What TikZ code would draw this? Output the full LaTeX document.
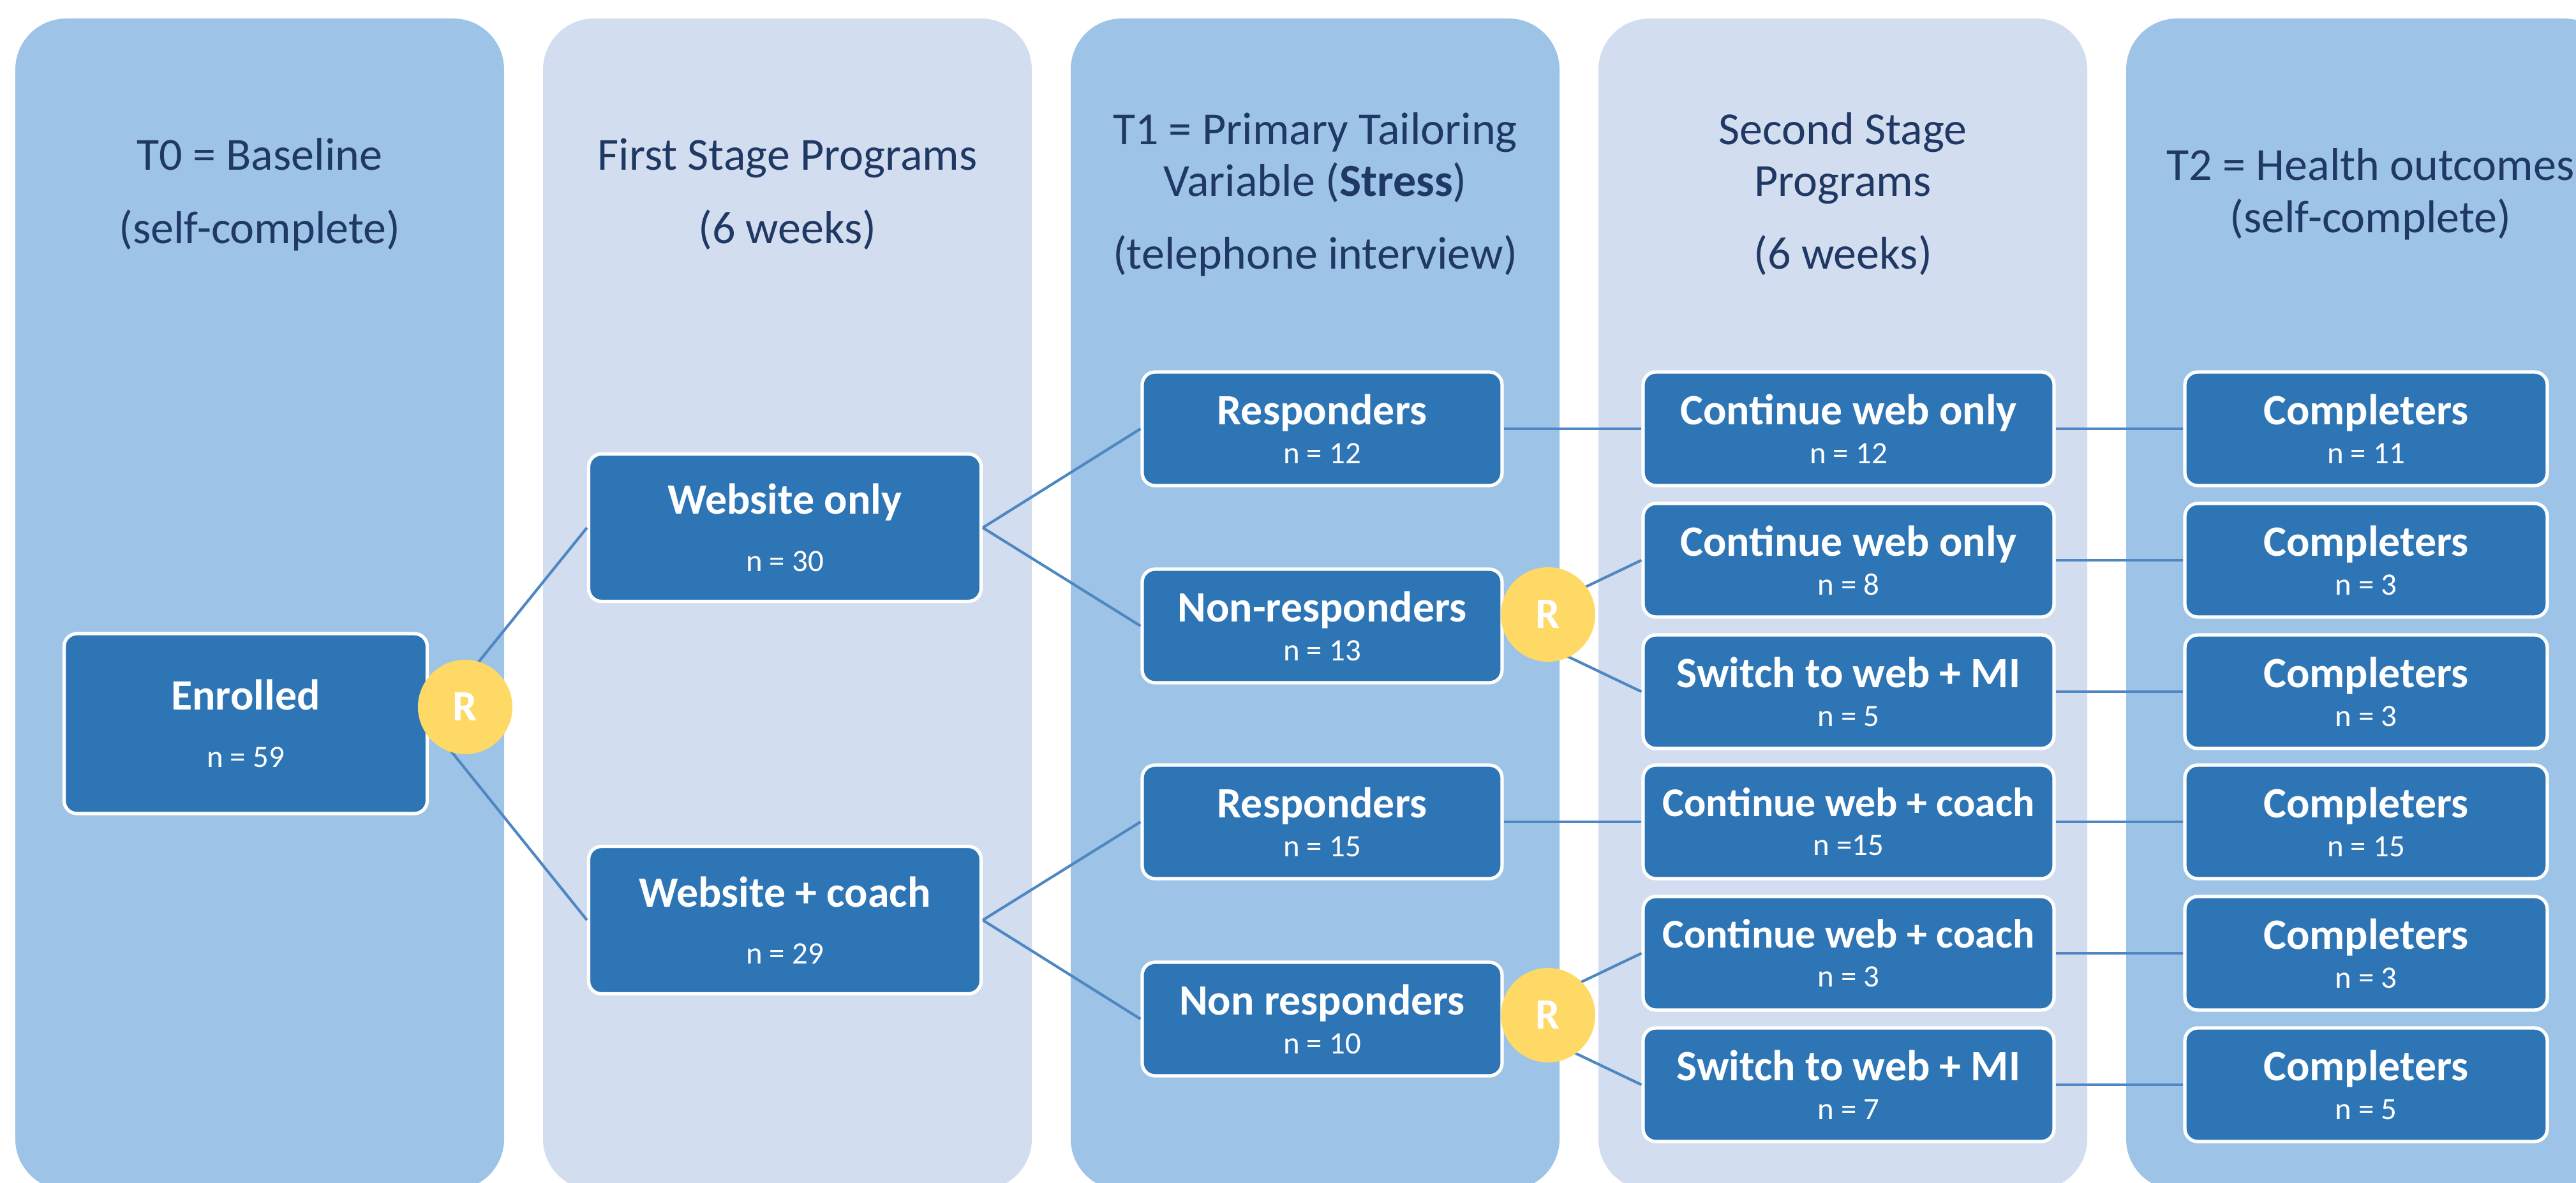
\documentclass[tikz,border=0pt]{standalone}
\usepackage{fontspec}
\setmainfont{Carlito}

\definecolor{colA}{HTML}{9DC3E6}
\definecolor{colB}{HTML}{D2DEEF}
\definecolor{boxblue}{HTML}{2E75B6}
\definecolor{linkblue}{HTML}{4F87C2}
\definecolor{rgold}{HTML}{FFD966}
\definecolor{headtxt}{HTML}{203864}
\newcommand{\nfont}{\fontsize{13.9}{17.4}\selectfont\mdseries}

\begin{document}
\begin{tikzpicture}[
  box/.style={draw=white, line width=1.5pt, fill=boxblue, rounded corners=0.2cm,
    text=white, align=center, inner sep=0pt,
    font=\fontsize{19.3}{17.4}\selectfont\bfseries},
  smallbox/.style={box, minimum width=5.64cm, minimum height=1.78cm},
  head/.style={text=headtxt, anchor=base, font=\fontsize{20.5}{23}\selectfont},
  rnd/.style={circle, fill=rgold, text=white, minimum size=1.48cm, inner sep=0pt,
    font=\fontsize{19.3}{19.3}\selectfont\bfseries},
  link/.style={draw=linkblue, line width=1.2pt}
]
\useasboundingbox (0,0) rectangle (40.37,-18.54);
\clip (0,0) rectangle (40.37,-18.54);

% columns
\fill[colA, rounded corners=0.8cm] (0.24,-0.29) rectangle (7.90,-18.65);
\fill[colB, rounded corners=0.8cm] (8.51,-0.29) rectangle (16.17,-18.65);
\fill[colA, rounded corners=0.8cm] (16.78,-0.29) rectangle (24.44,-18.65);
\fill[colB, rounded corners=0.8cm] (25.05,-0.29) rectangle (32.71,-18.65);
\fill[colA, rounded corners=0.8cm] (33.32,-0.29) rectangle (40.98,-18.65);

% column headings
\node[head] (h1a) at (4.07,-2.67) {T0 = Baseline};
\node[head] (h1b) at (4.07,-3.82) {(self-complete)};
\node[head] (h2a) at (12.34,-2.67) {First Stage Programs};
\node[head] (h2b) at (12.34,-3.82) {(6 weeks)};
\node[head] (h3a) at (20.61,-2.27) {T1 = Primary Tailoring};
\node[head] (h3b) at (20.61,-3.08) {Variable (\textbf{Stress})};
\node[head] (h3c) at (20.61,-4.22) {(telephone interview)};
\node[head] (h4a) at (28.88,-2.27) {Second Stage};
\node[head] (h4b) at (28.88,-3.08) {Programs};
\node[head] (h4c) at (28.88,-4.22) {(6 weeks)};
\node[head] (h5a) at (37.15,-2.83) {T2 = Health outcomes};
\node[head] (h5b) at (37.15,-3.65) {(self-complete)};

% first stage
\node[box, minimum width=5.69cm, minimum height=2.82cm] (enr) at (3.85,-11.34)
  {Enrolled\\[8pt]\nfont n = 59};
\node[box, minimum width=6.15cm, minimum height=2.31cm] (web) at (12.30,-8.27)
  {Website only\\[8pt]\nfont n = 30};
\node[box, minimum width=6.15cm, minimum height=2.31cm] (wc) at (12.30,-14.42)
  {Website + coach\\[8pt]\nfont n = 29};

% tailoring variable
\node[smallbox] (res1) at (20.72,-6.72) {Responders\\\nfont n = 12};
\node[smallbox] (non1) at (20.72,-9.81) {Non-responders\\\nfont n = 13};
\node[smallbox] (res2) at (20.72,-12.88) {Responders\\\nfont n = 15};
\node[smallbox] (non2) at (20.72,-15.97) {Non responders\\\nfont n = 10};

% second stage
\node[smallbox, minimum width=6.44cm] (c1) at (28.97,-6.72) {Continue web only\\\nfont n = 12};
\node[smallbox, minimum width=6.44cm] (c2) at (28.97,-8.78) {Continue web only\\\nfont n = 8};
\node[smallbox, minimum width=6.44cm] (c3) at (28.97,-10.84) {Switch to web + MI\\\nfont n = 5};
\node[smallbox, minimum width=6.44cm, font=\fontsize{18.2}{17.4}\selectfont\bfseries] (c4) at (28.97,-12.88)
  {Continue web + coach\\\nfont n =15};
\node[smallbox, minimum width=6.44cm, font=\fontsize{18.2}{17.4}\selectfont\bfseries] (c5) at (28.97,-14.94)
  {Continue web + coach\\\nfont n = 3};
\node[smallbox, minimum width=6.44cm] (c6) at (28.97,-17.00) {Switch to web + MI\\\nfont n = 7};

% outcomes
\node[smallbox, minimum width=5.68cm] (d1) at (37.08,-6.72) {Completers\\\nfont n = 11};
\node[smallbox, minimum width=5.68cm] (d2) at (37.08,-8.78) {Completers\\\nfont n = 3};
\node[smallbox, minimum width=5.68cm] (d3) at (37.08,-10.84) {Completers\\\nfont n = 3};
\node[smallbox, minimum width=5.68cm] (d4) at (37.08,-12.88) {Completers\\\nfont n = 15};
\node[smallbox, minimum width=5.68cm] (d5) at (37.08,-14.94) {Completers\\\nfont n = 3};
\node[smallbox, minimum width=5.68cm] (d6) at (37.08,-17.00) {Completers\\\nfont n = 5};

\path[link] (enr.east) -- (web.west);
\path[link] (enr.east) -- (wc.west);
\path[link] (web.east) -- (res1.west);
\path[link] (web.east) -- (non1.west);
\path[link] (wc.east) -- (res2.west);
\path[link] (wc.east) -- (non2.west);
\path[link] (res1.east) -- (c1.west);
\path[link] (non1.east) -- (c2.west);
\path[link] (non1.east) -- (c3.west);
\path[link] (res2.east) -- (c4.west);
\path[link] (non2.east) -- (c5.west);
\path[link] (non2.east) -- (c6.west);
\path[link] (c1.east) -- (d1.west);
\path[link] (c2.east) -- (d2.west);
\path[link] (c3.east) -- (d3.west);
\path[link] (c4.east) -- (d4.west);
\path[link] (c5.east) -- (d5.west);
\path[link] (c6.east) -- (d6.west);

% randomisation points
\node[rnd] (r1) at (7.29,-11.08) {R};
\node[rnd] (r2) at (24.26,-9.63) {R};
\node[rnd] (r3) at (24.26,-15.91) {R};
\end{tikzpicture}
\end{document}
